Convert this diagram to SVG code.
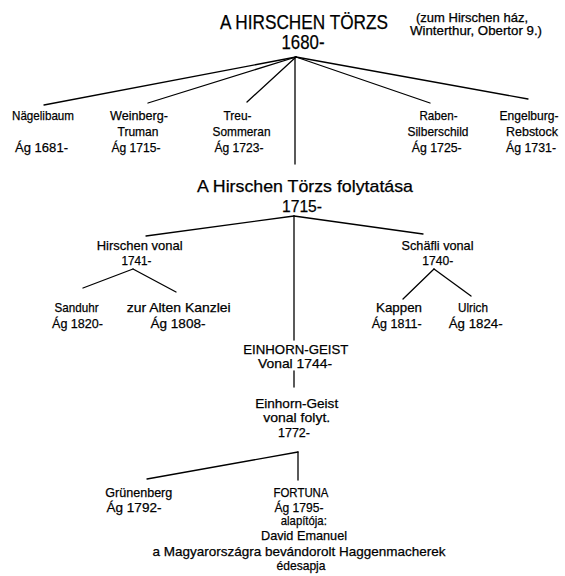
<svg xmlns="http://www.w3.org/2000/svg" width="565" height="576" viewBox="0 0 565 576">
<style>
text { font-family: "Liberation Sans", Arial, sans-serif; fill: #000; stroke: #000; stroke-width: 0.25; text-anchor: middle; }
.t1 { font-size: 20px; }
.t2 { font-size: 17px; }
.l { font-size: 13.5px; }
.n { font-size: 12px; }
.c line { stroke: #000; stroke-width: 1.3; fill: none; stroke-linecap: round; }
</style>
<rect width="565" height="576" fill="#fff"/>
<g id="connectors" class="c">
  <line x1="296" y1="57" x2="44" y2="105"/>
  <line x1="296" y1="57" x2="148" y2="103"/>
  <line x1="296" y1="57" x2="247" y2="102"/>
  <line x1="296" y1="57" x2="430" y2="103"/>
  <line x1="296" y1="57" x2="528" y2="99"/>
  <line x1="295" y1="57" x2="295" y2="164"/>
  <line x1="294" y1="216" x2="146" y2="236"/>
  <line x1="294" y1="216" x2="423" y2="234"/>
  <line x1="294" y1="216" x2="294" y2="340"/>
  <line x1="133" y1="269" x2="83" y2="288"/>
  <line x1="133" y1="269" x2="176" y2="292"/>
  <line x1="434" y1="269" x2="403" y2="299"/>
  <line x1="434" y1="269" x2="471" y2="296"/>
  <line x1="294" y1="371" x2="294" y2="387"/>
  <line x1="298" y1="452" x2="147" y2="479"/>
  <line x1="298" y1="452" x2="298" y2="480"/>
</g>
<g id="root">
  <text class="t1" x="304" y="29" textLength="168" lengthAdjust="spacingAndGlyphs">A HIRSCHEN TÖRZS</text>
  <text class="t1" x="303" y="49" font-size="19" textLength="43" lengthAdjust="spacingAndGlyphs">1680-</text>
</g>
<g id="note">
  <text class="n" x="472" y="22" textLength="112" lengthAdjust="spacingAndGlyphs">(zum Hirschen ház,</text>
  <text class="n" x="476" y="34.5" textLength="132" lengthAdjust="spacingAndGlyphs">Winterthur, Obertor 9.)</text>
</g>
<g id="nagelibaum">
  <text class="l" x="43" y="120" textLength="62" lengthAdjust="spacingAndGlyphs">Nägelibaum</text>
  <text class="l" x="41.5" y="152" textLength="53" lengthAdjust="spacingAndGlyphs">Ág 1681-</text>
</g>
<g id="weinberg">
  <text class="l" x="139" y="120" textLength="58" lengthAdjust="spacingAndGlyphs">Weinberg-</text>
  <text class="l" x="138" y="136" textLength="41" lengthAdjust="spacingAndGlyphs">Truman</text>
  <text class="l" x="136" y="152" textLength="49" lengthAdjust="spacingAndGlyphs">Ág 1715-</text>
</g>
<g id="treu">
  <text class="l" x="237.5" y="120" textLength="28" lengthAdjust="spacingAndGlyphs">Treu-</text>
  <text class="l" x="241.5" y="136" textLength="58" lengthAdjust="spacingAndGlyphs">Sommeran</text>
  <text class="l" x="239" y="152" textLength="49" lengthAdjust="spacingAndGlyphs">Ág 1723-</text>
</g>
<g id="raben">
  <text class="l" x="438.5" y="120" textLength="38" lengthAdjust="spacingAndGlyphs">Raben-</text>
  <text class="l" x="438" y="136" textLength="61" lengthAdjust="spacingAndGlyphs">Silberschild</text>
  <text class="l" x="436.7" y="152" textLength="50" lengthAdjust="spacingAndGlyphs">Ág 1725-</text>
</g>
<g id="engelburg">
  <text class="l" x="529" y="120" textLength="59" lengthAdjust="spacingAndGlyphs">Engelburg-</text>
  <text class="l" x="532" y="136" textLength="52" lengthAdjust="spacingAndGlyphs">Rebstock</text>
  <text class="l" x="531" y="152" textLength="50" lengthAdjust="spacingAndGlyphs">Ág 1731-</text>
</g>
<g id="folytatasa">
  <text class="t2" x="305" y="192" textLength="216" lengthAdjust="spacingAndGlyphs">A Hirschen Törzs folytatása</text>
  <text class="t2" x="302" y="211.5" textLength="40" lengthAdjust="spacingAndGlyphs">1715-</text>
</g>
<g id="hirschen-vonal">
  <text class="l" x="139.7" y="250" textLength="86" lengthAdjust="spacingAndGlyphs">Hirschen vonal</text>
  <text class="l" x="136.5" y="265" textLength="30" lengthAdjust="spacingAndGlyphs">1741-</text>
</g>
<g id="sanduhr">
  <text class="l" x="76.6" y="312" textLength="44" lengthAdjust="spacingAndGlyphs">Sanduhr</text>
  <text class="l" x="77.5" y="328" textLength="51" lengthAdjust="spacingAndGlyphs">Ág 1820-</text>
</g>
<g id="alten-kanzlei">
  <text class="l" x="178.7" y="312" textLength="104" lengthAdjust="spacingAndGlyphs">zur Alten Kanzlei</text>
  <text class="l" x="178" y="328" textLength="55" lengthAdjust="spacingAndGlyphs">Ág 1808-</text>
</g>
<g id="schafli-vonal">
  <text class="l" x="437.5" y="250" textLength="72" lengthAdjust="spacingAndGlyphs">Schäfli vonal</text>
  <text class="l" x="437.7" y="264.5" textLength="31" lengthAdjust="spacingAndGlyphs">1740-</text>
</g>
<g id="kappen">
  <text class="l" x="399" y="312" textLength="46" lengthAdjust="spacingAndGlyphs">Kappen</text>
  <text class="l" x="396.7" y="328" textLength="50" lengthAdjust="spacingAndGlyphs">Ág 1811-</text>
</g>
<g id="ulrich">
  <text class="l" x="473" y="312" textLength="30" lengthAdjust="spacingAndGlyphs">Ulrich</text>
  <text class="l" x="475.7" y="328" textLength="54" lengthAdjust="spacingAndGlyphs">Ág 1824-</text>
</g>
<g id="einhorn-geist">
  <text class="l" x="295.8" y="354" font-size="14" textLength="105" lengthAdjust="spacingAndGlyphs">EINHORN-GEIST</text>
  <text class="l" x="295" y="368" font-size="14" textLength="74" lengthAdjust="spacingAndGlyphs">Vonal 1744-</text>
</g>
<g id="einhorn-geist-folyt">
  <text class="l" x="296.7" y="408" textLength="83" lengthAdjust="spacingAndGlyphs">Einhorn-Geist</text>
  <text class="l" x="296.7" y="422" textLength="67" lengthAdjust="spacingAndGlyphs">vonal folyt.</text>
  <text class="l" x="294" y="436.5" textLength="32" lengthAdjust="spacingAndGlyphs">1772-</text>
</g>
<g id="grunenberg">
  <text class="l" x="138.8" y="497" textLength="67" lengthAdjust="spacingAndGlyphs">Grünenberg</text>
  <text class="l" x="134" y="511.5" textLength="55" lengthAdjust="spacingAndGlyphs">Ág 1792-</text>
</g>
<g id="fortuna">
  <text class="l" x="301" y="497" textLength="55" lengthAdjust="spacingAndGlyphs">FORTUNA</text>
  <text class="l" x="299" y="511.5" textLength="49" lengthAdjust="spacingAndGlyphs">Ág 1795-</text>
  <text class="l" x="303.8" y="525" textLength="46" lengthAdjust="spacingAndGlyphs">alapítója:</text>
  <text class="l" x="304" y="539.5" textLength="86" lengthAdjust="spacingAndGlyphs">David Emanuel</text>
  <text class="l" x="299" y="555.5" textLength="293" lengthAdjust="spacingAndGlyphs">a Magyarországra bevándorolt Haggenmacherek</text>
  <text class="l" x="301" y="570" textLength="49" lengthAdjust="spacingAndGlyphs">édesapja</text>
</g>
</svg>
